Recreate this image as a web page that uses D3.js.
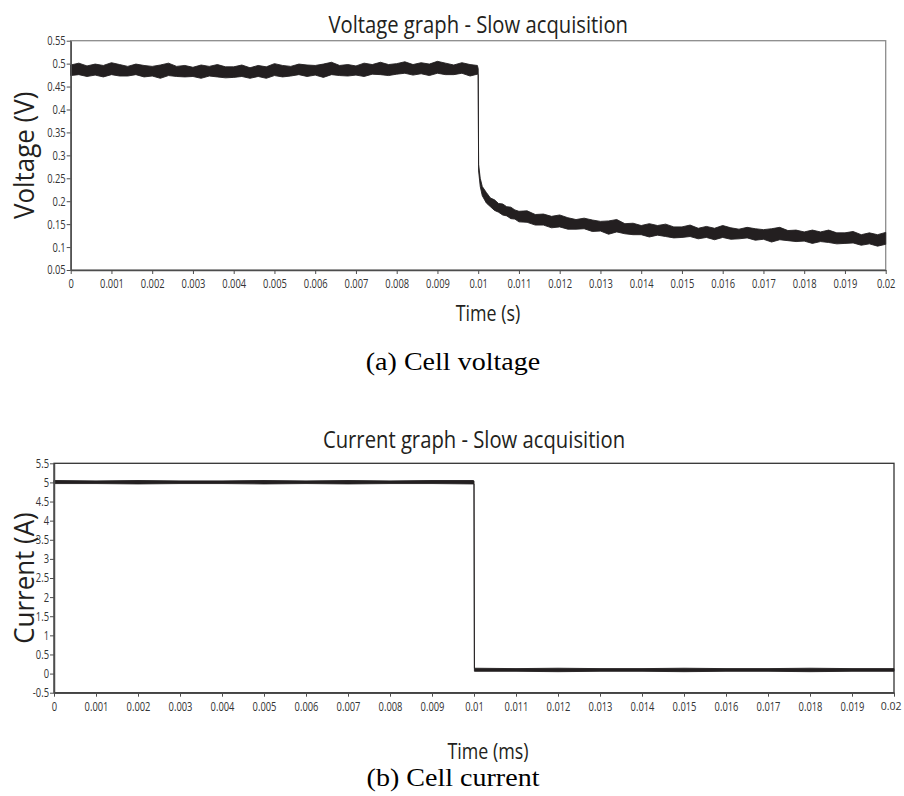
<!DOCTYPE html>
<html>
<head>
<meta charset="utf-8">
<script src="https://cdn.jsdelivr.net/npm/d3@7"></script>
<style>
  body { margin: 0; background: #fff; }
  svg { display: block; }
</style>
</head>
<body>
<script>
// ---- data ----
const timeTicks = [0, 0.001, 0.002, 0.003, 0.004, 0.005, 0.006, 0.007, 0.008, 0.009, 0.01,
  0.011, 0.012, 0.013, 0.014, 0.015, 0.016, 0.017, 0.018, 0.019, 0.02];
const voltTicks = [0.05, 0.1, 0.15, 0.2, 0.25, 0.3, 0.35, 0.4, 0.45, 0.5, 0.55];
const currTicks = [-0.5, 0, 0.5, 1, 1.5, 2, 2.5, 3, 3.5, 4, 4.5, 5, 5.5];

// voltage trace: upper / lower edge of the noisy band
const voltTime = [0, 0.0002, 0.0004, 0.0006, 0.0008, 0.001, 0.0012, 0.0014, 0.0016, 0.0018,
  0.002, 0.0022, 0.0024, 0.0026, 0.0028, 0.003, 0.0032, 0.0034, 0.0036, 0.0038,
  0.004, 0.0042, 0.0044, 0.0046, 0.0048, 0.005, 0.0052, 0.0054, 0.0056, 0.0058,
  0.006, 0.0062, 0.0064, 0.0066, 0.0068, 0.007, 0.0072, 0.0074, 0.0076, 0.0078,
  0.008, 0.0082, 0.0084, 0.0086, 0.0088, 0.009, 0.0092, 0.0094, 0.0096, 0.0098,
  0.00998, 0.01,
  0.01001, 0.01005, 0.0101, 0.0102, 0.0103, 0.0104, 0.0105, 0.0106, 0.0107, 0.0108, 0.0109,
  0.011, 0.0112, 0.0114, 0.0116, 0.0118, 0.012, 0.0122, 0.0124, 0.0126, 0.0128,
  0.013, 0.0132, 0.0134, 0.0136, 0.0138, 0.014, 0.0142, 0.0144, 0.0146, 0.0148,
  0.015, 0.0152, 0.0154, 0.0156, 0.0158, 0.016, 0.0162, 0.0164, 0.0166, 0.0168,
  0.017, 0.0172, 0.0174, 0.0176, 0.0178, 0.018, 0.0182, 0.0184, 0.0186, 0.0188,
  0.019, 0.0192, 0.0194, 0.0196, 0.0198, 0.02];
const voltHigh = [0.497, 0.501, 0.495, 0.499, 0.496, 0.502, 0.498, 0.494, 0.499, 0.496,
  0.494, 0.497, 0.501, 0.494, 0.496, 0.492, 0.497, 0.494, 0.498, 0.493,
  0.493, 0.497, 0.491, 0.496, 0.493, 0.500, 0.496, 0.494, 0.499, 0.497,
  0.496, 0.499, 0.503, 0.496, 0.498, 0.495, 0.501, 0.498, 0.503, 0.498,
  0.500, 0.504, 0.498, 0.502, 0.499, 0.505, 0.501, 0.497, 0.502, 0.498,
  0.496, 0.489,
  0.280, 0.250, 0.232, 0.219, 0.207, 0.203, 0.195, 0.194, 0.188, 0.187, 0.181,
  0.178, 0.179, 0.171, 0.172, 0.167, 0.170, 0.164, 0.160, 0.163, 0.159,
  0.156, 0.157, 0.160, 0.151, 0.152, 0.147, 0.151, 0.147, 0.150, 0.144,
  0.144, 0.148, 0.141, 0.145, 0.141, 0.147, 0.142, 0.139, 0.143, 0.140,
  0.138, 0.140, 0.143, 0.136, 0.137, 0.133, 0.137, 0.133, 0.137, 0.131,
  0.131, 0.134, 0.127, 0.131, 0.127, 0.132];
const voltLow = [0.474, 0.476, 0.472, 0.475, 0.471, 0.476, 0.473, 0.473, 0.476, 0.471,
  0.473, 0.468, 0.474, 0.472, 0.471, 0.472, 0.468, 0.473, 0.471, 0.469,
  0.470, 0.472, 0.468, 0.472, 0.468, 0.474, 0.471, 0.473, 0.476, 0.472,
  0.475, 0.470, 0.476, 0.474, 0.473, 0.475, 0.472, 0.477, 0.476, 0.474,
  0.477, 0.479, 0.475, 0.478, 0.474, 0.479, 0.476, 0.476, 0.479, 0.473,
  0.477, 0.476,
  0.266, 0.232, 0.212, 0.196, 0.188, 0.180, 0.176, 0.170, 0.168, 0.162, 0.161,
  0.155, 0.154, 0.148, 0.148, 0.142, 0.144, 0.139, 0.139, 0.140, 0.134,
  0.135, 0.128, 0.133, 0.129, 0.127, 0.127, 0.122, 0.126, 0.123, 0.120,
  0.121, 0.123, 0.118, 0.121, 0.116, 0.121, 0.117, 0.118, 0.120, 0.115,
  0.117, 0.111, 0.116, 0.114, 0.112, 0.113, 0.108, 0.112, 0.110, 0.107,
  0.108, 0.109, 0.104, 0.107, 0.102, 0.106];

// current trace, same idea
const currTime = [0, 0.001, 0.002, 0.003, 0.004, 0.005, 0.006, 0.007, 0.008, 0.009, 0.00998,
  0.01, 0.01001, 0.011, 0.012, 0.013, 0.014, 0.015, 0.016, 0.017, 0.018, 0.019, 0.02];
const currHigh = [5.05, 5.04, 5.05, 5.04, 5.04, 5.05, 5.04, 5.05, 5.04, 5.05, 5.05,
  5.04, 0.14, 0.13, 0.14, 0.13, 0.13, 0.14, 0.13, 0.13, 0.14, 0.13, 0.13];
const currLow = [4.97, 4.97, 4.96, 4.97, 4.97, 4.96, 4.97, 4.96, 4.97, 4.97, 4.96,
  4.96, 0.06, 0.06, 0.05, 0.06, 0.06, 0.05, 0.06, 0.06, 0.05, 0.06, 0.06];

const W = 904, H = 796;
const sans = '"Open Sans", "Noto Sans", sans-serif';
const serif = '"Liberation Serif", "DejaVu Serif", serif';
const ink = '#231f20';

const svg = d3.select('body').append('svg')
  .attr('width', W)
  .attr('height', H);

// the source font is narrower than anything installed, so squeeze text horizontally
function squeeze(sel, k) {
  sel.each(function() {
    const len = this.getComputedTextLength();
    d3.select(this)
      .attr('textLength', len * k)
      .attr('lengthAdjust', 'spacingAndGlyphs');
  });
}

function panel(o) {
  const x = d3.scaleLinear().domain([0, 0.02]).range([o.left, o.right]);
  const y = d3.scaleLinear().domain(o.yDomain).range([o.bottom, o.top]);
  const g = svg.append('g');

  // frame
  g.append('rect')
    .attr('x', o.left).attr('y', o.top)
    .attr('width', o.right - o.left).attr('height', o.bottom - o.top)
    .attr('fill', 'none')
    .attr('stroke', o.frame)
    .attr('stroke-width', 1.3);

  // trace band
  const rows = o.time.map((t, i) => ({ t: t, hi: o.high[i], lo: o.low[i] }));
  g.append('path')
    .datum(rows)
    .attr('d', d3.area()
      .x(d => x(d.t))
      .y0(d => y(d.lo))
      .y1(d => y(d.hi)))
    .attr('fill', ink)
    .attr('stroke', ink)
    .attr('stroke-width', 0.9)
    .attr('stroke-linejoin', 'miter');

  const yAxis = g.append('g')
    .attr('transform', `translate(${o.left},0)`)
    .call(d3.axisLeft(y).tickValues(o.yTicks).tickSize(4).tickSizeOuter(0)
      .tickPadding(1).tickFormat(d => String(d)));
  const xAxis = g.append('g')
    .attr('transform', `translate(0,${o.bottom})`)
    .call(d3.axisBottom(x).tickValues(timeTicks).tickSize(4).tickSizeOuter(0)
      .tickPadding(5.5).tickFormat(d => String(d)));

  [yAxis, xAxis].forEach(a => {
    a.select('.domain').attr('stroke', '#4d4d4d').attr('stroke-width', 1.5);
    a.selectAll('.tick line').attr('stroke', '#4d4d4d');
    a.selectAll('text')
      .attr('font-family', sans)
      .attr('font-size', '12.3px')
      .attr('fill', '#333');
  });

  const edge = d => x(d) + 12 > W;
  yAxis.selectAll('text').call(squeeze, 0.76);
  xAxis.selectAll('.tick text').filter(d => !edge(d)).call(squeeze, 0.76);
  // the last time label sits at the page edge: pull it inside
  xAxis.selectAll('.tick text').filter(edge)
    .attr('font-size', '10.5px')
    .attr('text-anchor', 'end')
    .attr('x', W - 3 - o.right);

  g.append('text')
    .attr('x', (o.left + o.right) / 2)
    .attr('y', o.titleY)
    .attr('text-anchor', 'middle')
    .attr('font-family', sans)
    .attr('font-size', '23px')
    .attr('fill', ink)
    .text(o.title)
    .call(squeeze, 0.88);

  g.append('text')
    .attr('transform', `translate(${o.yLabelX},${(o.top + o.bottom) / 2}) rotate(-90)`)
    .attr('text-anchor', 'middle')
    .attr('font-family', sans)
    .attr('font-size', '27px')
    .attr('fill', ink)
    .text(o.yLabel)
    .call(squeeze, 0.96);

  g.append('text')
    .attr('x', 488)
    .attr('y', o.xLabelY)
    .attr('text-anchor', 'middle')
    .attr('font-family', sans)
    .attr('font-size', '21px')
    .attr('fill', ink)
    .text(o.xLabel)
    .call(squeeze, 0.85);

  g.append('text')
    .attr('x', 453)
    .attr('y', o.captionY)
    .attr('text-anchor', 'middle')
    .attr('font-family', serif)
    .attr('font-size', '25.5px')
    .attr('fill', '#000')
    .text(o.caption)
    .call(squeeze, 1.1);
}

panel({
  left: 70.7, right: 885.7, top: 40.7, bottom: 270,
  yDomain: [0.05, 0.55], yTicks: voltTicks,
  time: voltTime, high: voltHigh, low: voltLow,
  frame: '#8c8c8c',
  title: 'Voltage graph - Slow acquisition', titleY: 33,
  yLabel: 'Voltage (V)', yLabelX: 33.5,
  xLabel: 'Time (s)', xLabelY: 321,
  caption: '(a) Cell voltage', captionY: 370
});

panel({
  left: 54, right: 894, top: 463.3, bottom: 692.7,
  yDomain: [-0.5, 5.5], yTicks: currTicks,
  time: currTime, high: currHigh, low: currLow,
  frame: '#333',
  title: 'Current graph - Slow acquisition', titleY: 448,
  yLabel: 'Current (A)', yLabelX: 33.5,
  xLabel: 'Time (ms)', xLabelY: 759,
  caption: '(b) Cell current', captionY: 786
});
</script>
</body>
</html>
